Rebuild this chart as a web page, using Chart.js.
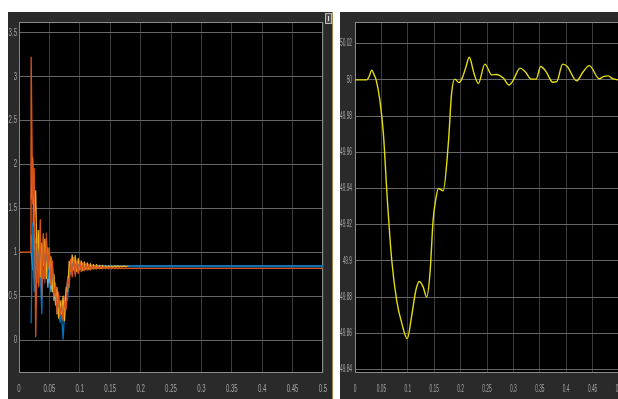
<!DOCTYPE html>
<html>
<head>
<meta charset="utf-8">
<script src="https://cdn.jsdelivr.net/npm/chart.js@4"></script>
<style>
  html, body { margin: 0; padding: 0; background: #ffffff; width: 618px; height: 399px; overflow: hidden; position: relative; }
  .panel { position: absolute; top: 12px; height: 387px; background: #2a2a2a; overflow: hidden; }
  #leftPanel { left: 8px; width: 324px; }
  #rightPanel { left: 340px; width: 278px; }
  #seam { position: absolute; left: 332px; top: 12px; width: 1px; height: 387px; background: #9c844c; }
  #dock { position: absolute; left: 325px; top: 13px; width: 5px; height: 9px; border: 1px solid #b8b8b8; background: #505050; }
  #dock::after { content: ""; position: absolute; left: 2px; top: 2px; width: 1px; height: 5px; background: #e0e0e0; }
  canvas { position: absolute; top: 0; left: 0; }
</style>
</head>
<body>
<div class="panel" id="leftPanel"><canvas id="scopeLeft" width="324" height="387"></canvas></div>
<div id="seam"></div>
<div id="dock"></div>
<div class="panel" id="rightPanel"><canvas id="scopeRight" width="287" height="387"></canvas></div>
<script>
// ---- axis ticks ----
const timeTicks = [0, 0.05, 0.1, 0.15, 0.2, 0.25, 0.3, 0.35, 0.4, 0.45, 0.5];
const timeTickLabels = ['0', '0.05', '0.1', '0.15', '0.2', '0.25', '0.3', '0.35', '0.4', '0.45', '0.5'];
const leftTicks = [0, 0.5, 1, 1.5, 2, 2.5, 3, 3.5];
const leftTickLabels = ['0', '0.5', '1', '1.5', '2', '2.5', '3', '3.5'];
const rightTicks = [49.84, 49.86, 49.88, 49.9, 49.92, 49.94, 49.96, 49.98, 50, 50.02];
const rightTickLabels = ['49.84', '49.86', '49.88', '49.9', '49.92', '49.94', '49.96', '49.98', '50', '50.02'];

// ---- left scope: per-unit signals during the disturbance ----
const sampleTimes = [
  0.0200, 0.0225, 0.0250, 0.0275, 0.0300, 0.0325, 0.0350, 0.0375, 0.0400, 0.0425,
  0.0450, 0.0475, 0.0500, 0.0525, 0.0550, 0.0575, 0.0600, 0.0625, 0.0650, 0.0675,
  0.0700, 0.0725, 0.0750, 0.0775, 0.0800, 0.0825, 0.0850, 0.0875, 0.0900, 0.0925,
  0.0950, 0.0975, 0.1000, 0.1025, 0.1050, 0.1075, 0.1100, 0.1125, 0.1150, 0.1175,
  0.1200, 0.1225, 0.1250, 0.1275, 0.1300, 0.1325, 0.1350, 0.1375, 0.1400, 0.1425,
  0.1450, 0.1475, 0.1500, 0.1525, 0.1550, 0.1575, 0.1600, 0.1625, 0.1650, 0.1675,
  0.1700, 0.1725, 0.1750, 0.1775, 0.1800
];
const endTime = 0.5;

const blueSignal = [
  0.19, 1.33, 0.55, 1.10, 0.65, 1.00, 0.75, 0.30, 1.05, 0.78,
  1.00, 0.70, 0.95, 0.70, 0.80, 0.55, 0.60, 0.35, 0.42, 0.20,
  0.30, 0.01, 0.30, 0.50, 0.45, 0.80, 0.75, 0.90, 0.80, 0.90,
  0.80, 0.89, 0.81, 0.88, 0.81, 0.87, 0.82, 0.86, 0.82, 0.86,
  0.82, 0.855, 0.825, 0.85, 0.83, 0.85, 0.83, 0.848, 0.832, 0.847,
  0.834, 0.846, 0.835, 0.845, 0.836, 0.844, 0.837, 0.843, 0.838, 0.842,
  0.839, 0.841, 0.84, 0.84, 0.84
];
const blueFinal = 0.84;

const orangeStart = 1.0;
const orangeSignal = [
  3.22, 1.55, 1.95, 0.04, 1.10, 0.62, 1.37, 0.48, 1.21, 0.70,
  1.15, 0.82, 1.05, 0.62, 0.90, 0.50, 0.62, 0.30, 0.52, 0.28,
  0.40, 0.22, 0.45, 0.35, 0.72, 0.60, 0.92, 0.72, 0.94, 0.75,
  0.90, 0.76, 0.90, 0.78, 0.88, 0.79, 0.87, 0.80, 0.86, 0.80,
  0.85, 0.81, 0.85, 0.81, 0.84, 0.81, 0.84, 0.812, 0.835, 0.812,
  0.83, 0.812, 0.828, 0.812, 0.825, 0.813, 0.824, 0.813, 0.822, 0.814,
  0.82, 0.814, 0.818, 0.815, 0.815
];
const orangeFinal = 0.815;

const yellowSignal = [
  1.60, 2.08, 1.30, 1.70, 0.80, 1.25, 0.72, 1.10, 0.85, 1.15,
  0.70, 1.05, 0.80, 0.95, 0.55, 0.75, 0.40, 0.60, 0.25, 0.45,
  0.30, 0.50, 0.22, 0.60, 0.55, 0.90, 0.78, 0.97, 0.80, 0.96,
  0.78, 0.93, 0.80, 0.90, 0.79, 0.89, 0.80, 0.88, 0.80, 0.87,
  0.81, 0.86, 0.81, 0.86, 0.815, 0.85, 0.815, 0.85, 0.82, 0.845,
  0.82, 0.845, 0.825, 0.845, 0.828, 0.845, 0.83, 0.845, 0.832, 0.843,
  0.835, 0.842, 0.838, 0.84, 0.84
];
const yellowFinal = 0.84;

const skySignal = [
  1.00, 0.80, 1.20, 0.75, 1.05, 0.85, 1.00, 0.70, 0.95, 0.80,
  0.90, 0.60, 0.85, 0.55, 0.70, 0.45, 0.55, 0.30, 0.45, 0.35,
  0.25, 0.40, 0.35, 0.55, 0.65, 0.75, 0.85, 0.80, 0.88, 0.82,
  0.87, 0.82, 0.86, 0.82, 0.86, 0.825, 0.85, 0.825, 0.85, 0.83,
  0.845, 0.83, 0.845, 0.83, 0.845, 0.832, 0.845, 0.833, 0.844, 0.834,
  0.843, 0.835, 0.843, 0.836, 0.842, 0.837, 0.842, 0.838, 0.841, 0.839,
  0.841, 0.84, 0.84, 0.84, 0.84
];
const skyFinal = 0.84;

const purpleSignal = [
  1.20, 0.90, 0.70, 1.15, 0.90, 0.75, 1.05, 0.85, 0.70, 1.00,
  0.80, 0.95, 0.65, 0.80, 0.60, 0.65, 0.45, 0.50, 0.35, 0.40,
  0.28, 0.35, 0.40, 0.45, 0.70, 0.70, 0.88, 0.84, 0.86, 0.83,
  0.87, 0.82, 0.86, 0.83, 0.85, 0.82, 0.85, 0.83, 0.845, 0.825,
  0.845, 0.83, 0.845, 0.832, 0.844, 0.833, 0.844, 0.834, 0.843, 0.835,
  0.843, 0.836, 0.842, 0.837, 0.842, 0.838, 0.841, 0.839, 0.841, 0.84,
  0.84, 0.84, 0.84, 0.84, 0.84
];
const purpleFinal = 0.84;

const maroonSignal = [
  2.00, 1.00, 1.50, 0.70, 1.25, 0.60, 1.20, 0.75, 1.20, 0.65,
  1.22, 0.75, 1.00, 0.60, 0.85, 0.45, 0.65, 0.30, 0.55, 0.30,
  0.45, 0.28, 0.50, 0.45, 0.68, 0.70, 0.80, 0.75, 0.85, 0.72,
  0.86, 0.76, 0.85, 0.78, 0.84, 0.79, 0.84, 0.80, 0.84, 0.80,
  0.835, 0.81, 0.835, 0.81, 0.83, 0.812, 0.83, 0.812, 0.828, 0.813,
  0.826, 0.813, 0.825, 0.814, 0.824, 0.814, 0.822, 0.815, 0.82, 0.815,
  0.818, 0.815, 0.816, 0.815, 0.815
];
const maroonFinal = 0.815;

// ---- right scope: grid frequency (Hz) ----
const freqTimes = [
  0, 0.022, 0.027, 0.0316, 0.036, 0.040, 0.047, 0.0537, 0.0612, 0.0695,
  0.079, 0.0884, 0.099, 0.107, 0.1155, 0.1218, 0.129, 0.1357, 0.142, 0.148,
  0.153, 0.158, 0.167, 0.1768, 0.183, 0.189, 0.197, 0.203, 0.210, 0.2165,
  0.225, 0.2336, 0.246, 0.259, 0.268, 0.281, 0.2917, 0.300, 0.3125, 0.322,
  0.3346, 0.343, 0.3516, 0.3617, 0.3744, 0.382, 0.3933, 0.402, 0.4198, 0.4324,
  0.4438, 0.4627, 0.4703, 0.4797, 0.488, 0.5
];
const freqValues = [
  50.0, 50.0, 50.002, 50.0054, 50.003, 50.0, 49.989, 49.9706, 49.934, 49.9006,
  49.878, 49.8657, 49.857, 49.869, 49.884, 49.8886, 49.8856, 49.880, 49.893, 49.9227,
  49.934, 49.940, 49.9387, 49.965, 49.9927, 50.0004, 49.9985, 50.001, 50.007, 50.0125,
  50.004, 49.998, 50.0087, 50.0028, 50.003, 50.001, 49.9972, 50.0, 50.0065, 50.0046,
  50.0004, 50.0004, 50.0074, 50.0046, 49.9987, 49.999, 50.0087, 50.0074, 49.9995, 50.0046,
  50.0079, 50.0006, 50.0018, 50.0022, 50.0007, 50.0
];

// ---- helpers ----
function tracePoints(values, finalValue, startValue) {
  const pts = [];
  if (startValue !== undefined) {
    pts.push({ x: 0, y: startValue });
    pts.push({ x: sampleTimes[0] - 0.0005, y: startValue });
  }
  values.forEach((v, i) => pts.push({ x: sampleTimes[i], y: v }));
  pts.push({ x: endTime, y: finalValue });
  return pts;
}

// steady part of a signal, from the last transient sample to the end of the run
function tailPoints(values, finalValue) {
  const last = sampleTimes.length - 1;
  return [{ x: sampleTimes[last], y: values[last] }, { x: endTime, y: finalValue }];
}

// Black plotting area, frame around it, and squeezed scope-style tick text
const scopeDecor = {
  id: 'scopeDecor',
  beforeDraw(chart) {
    const { ctx, chartArea: a } = chart;
    ctx.save();
    ctx.fillStyle = '#000000';
    ctx.fillRect(a.left, a.top, a.right - a.left, a.bottom - a.top);
    ctx.restore();
  },
  beforeDatasetsDraw(chart, args, o) {
    const { ctx, chartArea: a } = chart;
    ctx.save();
    ctx.strokeStyle = o.frame;
    ctx.lineWidth = 1;
    ctx.strokeRect(Math.round(a.left) + 0.5, Math.round(a.top) + 0.5,
                   Math.round(a.right - a.left) - 1, Math.round(a.bottom - a.top) - 1);
    ctx.restore();
  },
  afterDraw(chart, args, o) {
    const { ctx, chartArea: a, scales } = chart;
    ctx.save();
    ctx.fillStyle = o.color;
    ctx.font = o.font;
    ctx.textBaseline = 'middle';
    o.yValues.forEach((v, i) => {
      const y = scales.y.getPixelForValue(v);
      ctx.save();
      ctx.translate(a.left - o.yGap, y);
      ctx.scale(o.sx, 1);
      ctx.textAlign = 'right';
      ctx.fillText(o.yLabels[i], 0, 0);
      ctx.restore();
    });
    o.xValues.forEach((v, i) => {
      const x = scales.x.getPixelForValue(v);
      ctx.save();
      ctx.translate(x, a.bottom + o.xGap);
      ctx.scale(o.sx, 1);
      ctx.textAlign = 'center';
      ctx.fillText(o.xLabels[i], 0, 0);
      ctx.restore();
    });
    ctx.restore();
  }
};

function scopeOptions(cfg) {
  return {
    responsive: false,
    animation: false,
    devicePixelRatio: 1,
    events: [],
    layout: { padding: { left: 0, right: cfg.padRight, top: 10, bottom: 0 } },
    plugins: {
      legend: { display: false },
      tooltip: { enabled: false },
      scopeDecor: {
        frame: '#8a8a8a', color: '#a6a6a6', font: cfg.font, sx: cfg.sx,
        yGap: cfg.yGap, xGap: 16,
        yValues: cfg.yTicks, yLabels: cfg.yLabels,
        xValues: timeTicks, xLabels: timeTickLabels
      }
    },
    elements: { point: { radius: 0 }, line: { borderCapStyle: 'butt', borderJoinStyle: 'round' } },
    scales: {
      x: {
        type: 'linear', min: 0, max: 0.5,
        afterBuildTicks: s => { s.ticks = timeTicks.map(v => ({ value: v })); },
        afterFit: s => { s.height = 26; },
        ticks: { display: false },
        grid: { color: '#3c3c3c', lineWidth: 1, drawTicks: false },
        border: { display: false }
      },
      y: {
        type: 'linear', min: cfg.yMin, max: cfg.yMax,
        afterBuildTicks: s => { s.ticks = cfg.yTicks.map(v => ({ value: v })); },
        afterFit: s => { s.width = cfg.yWidth; },
        ticks: { display: false },
        grid: { color: '#666666', lineWidth: 1, drawTicks: false },
        border: { display: false }
      }
    }
  };
}

function line(color, pts, width) {
  return { data: pts, borderColor: color, borderWidth: width, pointRadius: 0, tension: 0, fill: false };
}

new Chart(document.getElementById('scopeLeft'), {
  type: 'line',
  data: {
    datasets: [
      line('#0072BD', tailPoints(blueSignal, blueFinal), 2.2),
      line('#D95319', tracePoints(orangeSignal, orangeFinal, orangeStart), 1.3),
      line('#EDB120', tracePoints(yellowSignal, yellowFinal), 1.2),
      line('#0072BD', tracePoints(blueSignal, blueFinal), 1.3),
      line('#4DBEEE', tracePoints(skySignal, skyFinal), 1.2),
      line('#A2442F', tracePoints(maroonSignal, maroonFinal), 1.2),
      line('#8E78A8', tracePoints(purpleSignal, purpleFinal), 1.2)
    ]
  },
  options: scopeOptions({
    padRight: 9, yWidth: 11, yGap: 2, yMin: -0.375, yMax: 3.62,
    yTicks: leftTicks, yLabels: leftTickLabels,
    font: '11px "Liberation Sans"', sx: 0.55
  }),
  plugins: [scopeDecor]
});

new Chart(document.getElementById('scopeRight'), {
  type: 'line',
  data: {
    datasets: [{
      data: freqTimes.map((t, i) => ({ x: t, y: freqValues[i] })),
      borderColor: '#E2DC10', borderWidth: 1.4, pointRadius: 0,
      cubicInterpolationMode: 'monotone', fill: false
    }]
  },
  options: scopeOptions({
    padRight: 8, yWidth: 15, yGap: 3, yMin: 49.838, yMax: 50.032,
    yTicks: rightTicks, yLabels: rightTickLabels,
    font: '10px "Liberation Sans"', sx: 0.48
  }),
  plugins: [scopeDecor]
});
</script>
</body>
</html>
